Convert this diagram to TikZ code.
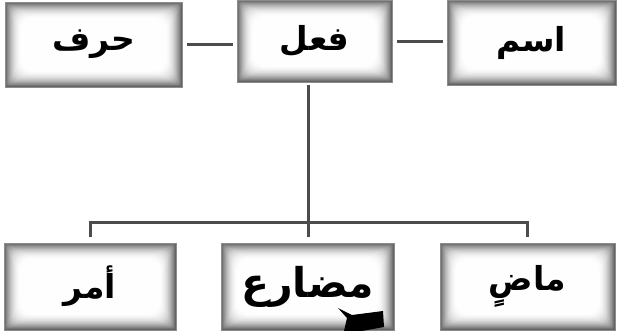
\documentclass[tikz,border=0pt]{standalone}
\usepackage{fontspec}
\newfontfamily\arabicfont[Script=Arabic]{DejaVu Sans}
\TeXXeTstate=1
\usepackage{tikz}
\tikzset{glowbox/.style={inner sep=0pt, draw=black!45, line width=0.8pt,
    font=\arabicfont\bfseries\fontsize{33}{36}\selectfont,
    path picture={
      \foreach \k [evaluate=\k as \c using {62*(1-\k/17)^2}] in {0,...,16}
        \fill[black!\c, rounded corners=\k*0.8pt]
          ([shift={(\k*1pt,\k*1pt)}]path picture bounding box.south west) rectangle
          ([shift={(-\k*1pt,-\k*1pt)}]path picture bounding box.north east);
    }}}
\tikzset{link/.style={draw=black!70, line width=3pt}}

\begin{document}
\begin{tikzpicture}[x=1pt, y=-1pt]
      \useasboundingbox (0,0) rectangle (618,330);

      \node[glowbox, minimum width=177pt, minimum height=85pt] (H) at (93.5,44.5) {\beginR حرف\endR};
      \node[glowbox, minimum width=155pt, minimum height=82pt] (F) at (314.5,41) {\beginR فعل\endR};
      \node[glowbox, minimum width=169pt, minimum height=85pt] (I) at (531.5,42.5) {\beginR اسم\endR};
      \node[glowbox, minimum width=172pt, minimum height=87pt] (A) at (90,286.5) {\beginR أمر\endR};
      \node[glowbox, minimum width=173pt, minimum height=87pt, font=\arabicfont\bfseries\fontsize{41}{44}\selectfont] (M) at (307.5,286.5) {\raisebox{-3pt}{\beginR مضارع\endR}};
      \node[glowbox, minimum width=175pt, minimum height=87pt] (P) at (527.5,286.5) {\beginR ماضٍ\endR};
      \coordinate (j) at (308,222);

      \draw[link, shorten <=5pt, shorten >=4pt] (H.east) -- (H.east -| F.west);
      \draw[link, shorten <=5pt, shorten >=4pt] (F.east) -- (F.east -| I.west);
      \draw[link, shorten <=3pt, shorten >=6pt] (F.south -| j) -- (M.north -| j);
      \draw[link, shorten <=6pt, shorten >=6pt] (A.north) |- (j) -| (P.north);

      \fill (338,308) -- (352,315) -- (383,311) -- (384,327) -- (362,331) -- (344,331) -- (347,318) -- cycle;
    \end{tikzpicture}
\end{document}
